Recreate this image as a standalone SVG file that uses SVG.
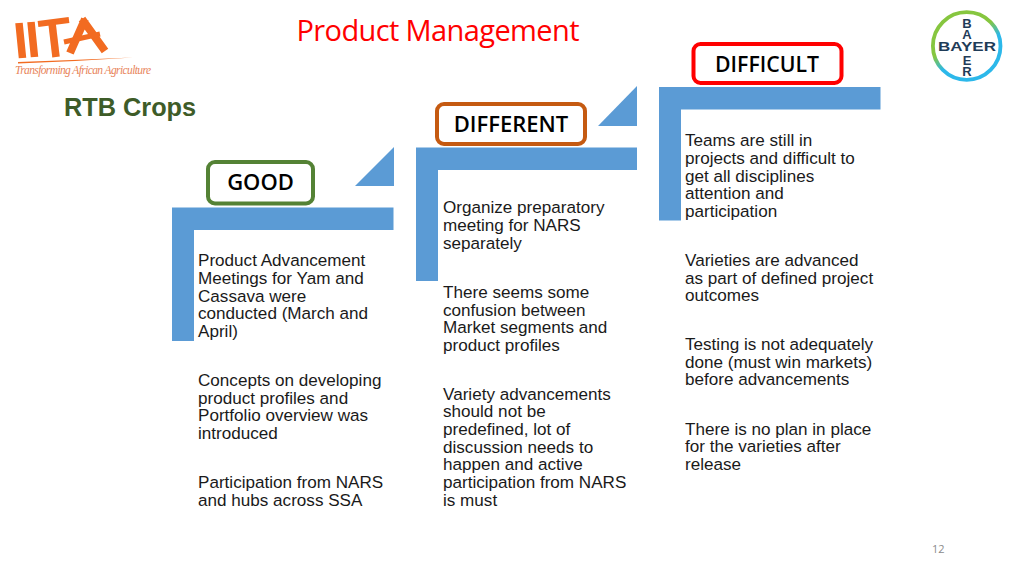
<svg xmlns="http://www.w3.org/2000/svg" width="1024" height="576" viewBox="0 0 1024 576">
<defs><linearGradient id="ring" x1="0.2" y1="0.1" x2="0.7" y2="0.9"><stop offset="0.4" stop-color="#86c63f"/><stop offset="0.65" stop-color="#2cb8ea"/></linearGradient></defs>
<style>
.t{font-family:"Liberation Sans",Arial,sans-serif;font-size:17.1px;fill:#1a1a1a}
.l{font-family:"Open Sans","Noto Sans",sans-serif;font-size:22px;font-weight:600;fill:#000;text-anchor:middle}
.b{fill:#5b9bd5}
.box{fill:#fff;stroke-width:4}
.o{fill:none;stroke:#f26b21;stroke-linecap:butt}
</style>
<rect width="1024" height="576" fill="#fff"/>
<g id="iita-logo">
<path class="o" stroke-width="7.500" d="M19 23L22.500 58M31 22L34.500 57"/>
<path class="o" stroke-width="6" d="M38 24L69 20"/>
<path class="o" stroke-width="7.500" d="M52 23L56 57"/>
<path class="o" stroke-width="8" d="M85 19L70 53M82 19L105 51"/>
<path class="o" stroke-width="5" d="M64 42L100 34"/>
<path d="M18 62Q75 60 133 57.500Q75 61.500 18 63.500Z" fill="#f26b21"/>
<text x="15" y="74" font-family="Liberation Serif,serif" font-style="italic" font-size="11.500" fill="#e8845a" textLength="136">Transforming African Agriculture</text>
</g>
<g id="bayer-logo">
<circle cx="966.700" cy="46" r="33.800" fill="none" stroke="url(#ring)" stroke-width="3.800"/>
<g font-family="Liberation Sans,sans-serif" font-weight="700" font-size="13" fill="#1f3c58" text-anchor="middle">
<text x="967" y="51" textLength="58" lengthAdjust="spacingAndGlyphs">BAYER</text>
<text x="967" y="27.500">B</text><text x="967" y="38.500">A</text><text x="967" y="64.500">E</text><text x="967" y="75.500">R</text>
</g>
</g>
<text id="title" x="438" y="41" font-family="Open Sans,Noto Sans,sans-serif" font-size="29" fill="#f00" text-anchor="middle" textLength="283">Product Management</text>
<text id="subtitle" x="64" y="116" font-family="Liberation Sans,sans-serif" font-size="25.300" font-weight="700" fill="#3e5c28">RTB Crops</text>
<g id="good">
<path class="b" d="M172 207.500H393.500V230H194V341H172Z"/><path class="b" d="M355 186L394 147V186Z"/>
<rect class="box" x="208" y="162" width="105" height="41.500" rx="7" stroke="#548235"/>
<text class="l" x="260.500" y="190">GOOD</text>
<text class="t"><tspan x="198" y="266">Product Advancement</tspan><tspan x="198" y="284">Meetings for Yam and</tspan><tspan x="198" y="302">Cassava were</tspan><tspan x="198" y="319">conducted (March and</tspan><tspan x="198" y="337">April)</tspan><tspan x="198" y="386">Concepts on developing</tspan><tspan x="198" y="404">product profiles and</tspan><tspan x="198" y="421">Portfolio overview was</tspan><tspan x="198" y="439">introduced</tspan><tspan x="198" y="488">Participation from NARS</tspan><tspan x="198" y="506">and hubs across SSA</tspan></text>
</g>
<g id="different">
<path class="b" d="M416 147.500H637V170H438V281H416Z"/><path class="b" d="M598 126L637 86V126Z"/>
<rect class="box" x="437" y="104" width="148" height="40" rx="7" stroke="#c55a11"/>
<text class="l" x="511" y="131.500">DIFFERENT</text>
<text class="t"><tspan x="443" y="213">Organize preparatory</tspan><tspan x="443" y="231">meeting for NARS</tspan><tspan x="443" y="249">separately</tspan><tspan x="443" y="298">There seems some</tspan><tspan x="443" y="316">confusion between</tspan><tspan x="443" y="333">Market segments and</tspan><tspan x="443" y="351">product profiles</tspan><tspan x="443" y="400">Variety advancements</tspan><tspan x="443" y="417">should not be</tspan><tspan x="443" y="435">predefined, lot of</tspan><tspan x="443" y="453">discussion needs to</tspan><tspan x="443" y="470">happen and active</tspan><tspan x="443" y="488">participation from NARS</tspan><tspan x="443" y="506">is must</tspan></text>
</g>
<g id="difficult">
<path class="b" d="M659 87H880.500V109.500H681V220.500H659Z"/>
<rect class="box" x="693.500" y="44" width="148" height="39" rx="7" stroke="#f00"/>
<text class="l" x="767" y="71.500" textLength="104" lengthAdjust="spacingAndGlyphs">DIFFICULT</text>
<text class="t"><tspan x="685" y="146">Teams are still in</tspan><tspan x="685" y="164">projects and difficult to</tspan><tspan x="685" y="182">get all disciplines</tspan><tspan x="685" y="199">attention and</tspan><tspan x="685" y="217">participation</tspan><tspan x="685" y="266">Varieties are advanced</tspan><tspan x="685" y="284">as part of defined project</tspan><tspan x="685" y="301">outcomes</tspan><tspan x="685" y="350">Testing is not adequately</tspan><tspan x="685" y="368">done (must win markets)</tspan><tspan x="685" y="385">before advancements</tspan><tspan x="685" y="435">There is no plan in place</tspan><tspan x="685" y="452">for the varieties after</tspan><tspan x="685" y="470">release</tspan></text>
</g>
<text id="page" x="932" y="553" font-family="Open Sans,sans-serif" font-size="11" fill="#8a8a8a">12</text>
</svg>
